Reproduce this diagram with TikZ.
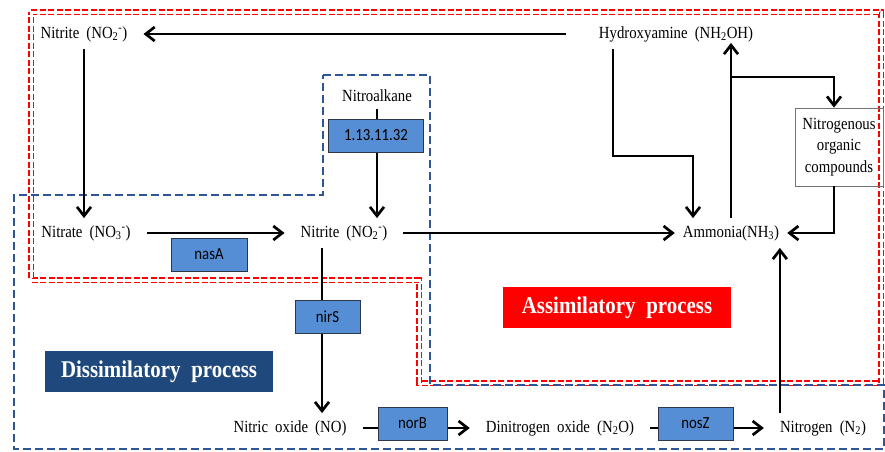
\documentclass[tikz,border=0pt]{standalone}
\usepackage{fontspec}
\newfontfamily\labelfont{Liberation Serif}[FakeStretch=0.87]
\newfontfamily\genefont{Carlito}[FakeStretch=0.87]
\usetikzlibrary{arrows.meta, positioning}
\definecolor{geneblue}{RGB}{85,142,213}
\definecolor{geneedge}{RGB}{45,55,75}
\definecolor{dissblue}{RGB}{31,73,125}
\definecolor{zoneblue}{RGB}{47,85,151}
\newcommand\compfont{\labelfont\fontsize{17}{21.7}\selectfont\spaceskip=0.42em\relax}
\newcommand\procfont{\labelfont\bfseries\fontsize{24}{26}\selectfont\spaceskip=0.45em\relax}

\begin{document}
\begin{tikzpicture}[x=1pt, y=-1pt]
    \tikzset{
        > = {Straight Barb[length=9pt, width=14pt]},
        compound/.style = {font=\compfont, inner xsep=16pt, inner ysep=7pt, align=center},
        gene/.style = {rectangle, draw=geneedge, fill=geneblue, line width=0.9pt,
                       font=\genefont\fontsize{17}{19}\selectfont, minimum height=33pt, inner sep=0pt},
        process/.style = {rectangle, text=white, minimum width=228pt, minimum height=41pt, font=\procfont},
        line/.style = {->, line width=2.7pt},
        zone/.style = {dash pattern=on 8pt off 4pt, line width=1.5pt}
    }
    \useasboundingbox (0,0) rectangle (885,451);

    % 区域边框
    \draw [draw=red, double=white, double distance=3pt, line width=1.3pt, dash pattern=on 6pt off 2.5pt]
        (31,12) -- (881,12) -- (881,383) -- (419,383) -- (419,280) -- (31,280) -- cycle;
    \draw [zone, draw=zoneblue]
        (323,75) -- (430,75) -- (430,385) -- (884,385) -- (884,449) -- (14,449) -- (14,195) -- (323,195) -- cycle;

    % 化合物
    \node [compound] (nitriteA) at (84,34) {Nitrite (NO\textsubscript{2}\textsuperscript{-})};
    \node [compound] (hydroxy) at (676,34) {Hydroxyamine (NH\textsubscript{2}OH)};
    \node [compound] (nitroalkane) at (377,96) {Nitroalkane};
    \node [compound] (nitrate) at (86,233) {Nitrate (NO\textsubscript{3}\textsuperscript{-})};
    \node [compound] (nitriteB) at (344,233) {Nitrite (NO\textsubscript{2}\textsuperscript{-})};
    \node [compound, inner xsep=8pt] (ammonia) at (731,233) {Ammonia(NH\textsubscript{3})};
    \node [compound, draw=black!55, line width=0.8pt, inner sep=0pt, minimum width=88pt, minimum height=78pt]
        (organic) at (839,147) {Nitrogenous\\organic\\compounds};
    \node [compound] (nitric) at (290,428) {Nitric oxide (NO)};
    \node [compound] (dinitro) at (560,428) {Dinitrogen oxide (N\textsubscript{2}O)};
    \node [compound] (nitrogen) at (823,428) {Nitrogen (N\textsubscript{2})};

    % 过程标签
    \node [process, fill=dissblue] (dissim) at (159,371.5) {Dissimilatory process};
    \node [process, fill=red] (assim) at (617,307.5) {Assimilatory process};

    % 路径连接
    \draw [line, shorten <=17pt] (hydroxy) -- (nitriteA);
    \draw [line] (nitriteA.south) -- (nitriteA.south |- nitrate.north);
    \draw [line] (nitroalkane.south) -- (nitroalkane.south |- nitriteB.north);
    \draw [line] (nitrate) -- (nitriteB);
    \draw [line] (nitriteB) -- (ammonia);
    \draw [line] ([xshift=-22pt]nitriteB.south) -- ([xshift=-22pt]nitriteB.south |- nitric.north);
    \draw [line] (nitric) -- (dinitro);
    \draw [line] (dinitro) -- (nitrogen);
    \draw [line] ([xshift=16pt]nitrogen.north west) -- ([xshift=16pt]nitrogen.north west |- ammonia.south);

    % 羟胺与氨之间
    \draw [line] ([xshift=-63pt]hydroxy.south) -- ++(0,107) -| ([xshift=-38pt]ammonia.north);
    \draw [line, shorten >=-6pt] (ammonia.north) -- (ammonia.north |- hydroxy.south);
    \coordinate (fork) at (732,77);
    \draw [line] (fork) -| ([xshift=-5pt]organic.north);
    \draw [line] ([xshift=-5pt]organic.south) |- (ammonia.east);

    % 基因
    \node [gene, minimum width=95pt] (ec) at (376,135.5) {1.13.11.32};
    \node [gene, minimum width=76pt] (nasA) at (209,254.5) {nasA};
    \node [gene, minimum width=65pt] (nirS) at (327.5,316.5) {nirS};
    \node [gene, minimum width=69pt] (norB) at (412.5,423.5) {norB};
    \node [gene, minimum width=75pt] (nosZ) at (695.5,423.5) {nosZ};

\end{tikzpicture}
\end{document}
